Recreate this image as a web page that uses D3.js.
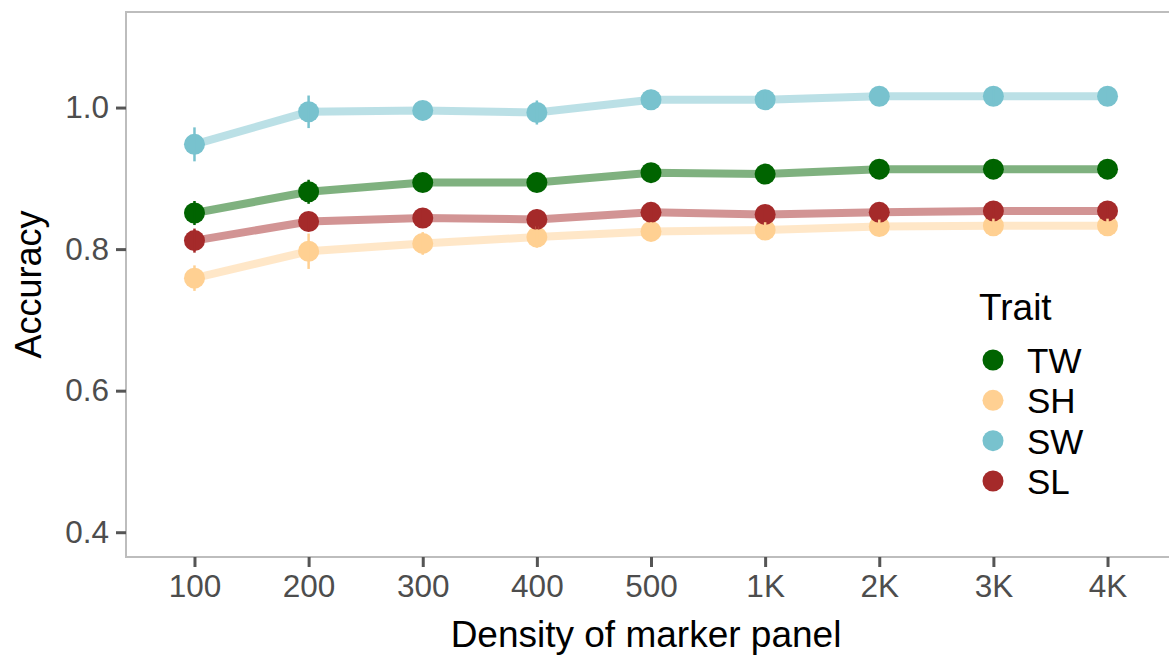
<!DOCTYPE html>
<html><head><meta charset="utf-8">
<script src="https://cdn.jsdelivr.net/npm/d3@7"></script>
<style>body{margin:0;background:#fff}svg{display:block;font-family:Arial,"Liberation Sans",sans-serif}</style>
</head><body><svg id="c" width="1169" height="657"></svg>
<script>
const categories = ["100","200","300","400","500","1K","2K","3K","4K"];
const traits = ["TW","SH","SW","SL"];
const colors = ["#006400","#FFD092","#78C2CE","#A52A2A"];
const valTW = [0.851,0.881,0.894,0.894,0.908,0.906,0.913,0.913,0.913];
const valSH = [0.759,0.797,0.808,0.817,0.825,0.827,0.832,0.833,0.833];
const valSW = [0.948,0.994,0.996,0.993,1.011,1.011,1.016,1.016,1.016];
const valSL = [0.812,0.839,0.844,0.842,0.852,0.849,0.852,0.854,0.854];
const errTW = [0.017,0.017,0.012,0.012,0.010,0.010,0.010,0.010,0.010];
const errSH = [0.018,0.025,0.016,0.015,0.013,0.011,0.010,0.010,0.010];
const errSW = [0.024,0.023,0.012,0.017,0.014,0.010,0.010,0.010,0.010];
const errSL = [0.017,0.013,0.012,0.014,0.012,0.010,0.010,0.010,0.010];
const yTicks = [0.4,0.6,0.8,1.0];
const yDomain = [0.365,1.135];

const series = [
  {name:"TW", vals:valTW, errs:errTW, color:colors[0]},
  {name:"SH", vals:valSH, errs:errSH, color:colors[1]},
  {name:"SW", vals:valSW, errs:errSW, color:colors[2]},
  {name:"SL", vals:valSL, errs:errSL, color:colors[3]}
];

const svg = d3.select("#c");
const L = 126, T = 12, R = 1176, B = 557;
const x = d3.scalePoint().domain(categories).range([L, R]).padding(0.6);
const y = d3.scaleLinear().domain(yDomain).range([B, T]);

// panel border
svg.append("rect").attr("x",L).attr("y",T).attr("width",R-L).attr("height",B-T)
  .attr("fill","none").attr("stroke","#bdbdbd").attr("stroke-width",2);

// axes
const yAxis = svg.append("g").attr("transform",`translate(${L},0)`)
  .call(d3.axisLeft(y).tickValues(yTicks).tickFormat(d3.format(".1f")).tickSize(10).tickPadding(7));
const xAxis = svg.append("g").attr("transform",`translate(0,${B})`)
  .call(d3.axisBottom(x).tickSize(10).tickPadding(8));
[yAxis,xAxis].forEach(a=>{
  a.select(".domain").remove();
  a.selectAll(".tick line").attr("stroke","#555").attr("stroke-width",3);
  a.selectAll(".tick text").attr("fill","#4d4d4d").style("font-size","31.5px").style("font-family","Arial, 'Liberation Sans', sans-serif");
});

// lines
const line = d3.line().x((d,i)=>x(categories[i])).y(d=>y(d));
series.forEach(s=>{
  svg.append("path").datum(s.vals).attr("d",line).attr("fill","none")
    .attr("stroke",s.color).attr("stroke-opacity",0.5).attr("stroke-width",8);
});
// points
series.forEach(s=>{
  svg.append("g").selectAll("circle").data(s.vals).join("circle")
    .attr("cx",(d,i)=>x(categories[i])).attr("cy",d=>y(d)).attr("r",10.5).attr("fill",s.color);
});
// error bars
series.forEach(s=>{
  svg.append("g").selectAll("line").data(s.vals).join("line")
    .attr("x1",(d,i)=>x(categories[i])).attr("x2",(d,i)=>x(categories[i]))
    .attr("y1",(d,i)=>y(d - s.errs[i])).attr("y2",(d,i)=>y(d + s.errs[i]))
    .attr("stroke",s.color).attr("stroke-width",2.5);
});

// axis titles
svg.append("text").attr("x",646).attr("y",647).attr("text-anchor","middle")
  .style("font-size","37px").attr("fill","#000").text("Density of marker panel");
svg.append("text").attr("transform",`translate(41,${(T+B)/2}) rotate(-90)`).attr("text-anchor","middle")
  .style("font-size","36px").attr("fill","#000").text("Accuracy");

// legend
const lg = svg.append("g");
lg.append("text").attr("x",979).attr("y",320).style("font-size","37px").attr("fill","#000").text("Trait");
const ly = d3.scalePoint().domain(traits).range([360,481]);
traits.forEach((t,i)=>{
  lg.append("circle").attr("cx",993).attr("cy",ly(t)).attr("r",10.5).attr("fill",colors[i]);
  lg.append("text").attr("x",1027).attr("y",ly(t)+13).style("font-size","35px").attr("fill","#000").text(t);
});
</script></body></html>
